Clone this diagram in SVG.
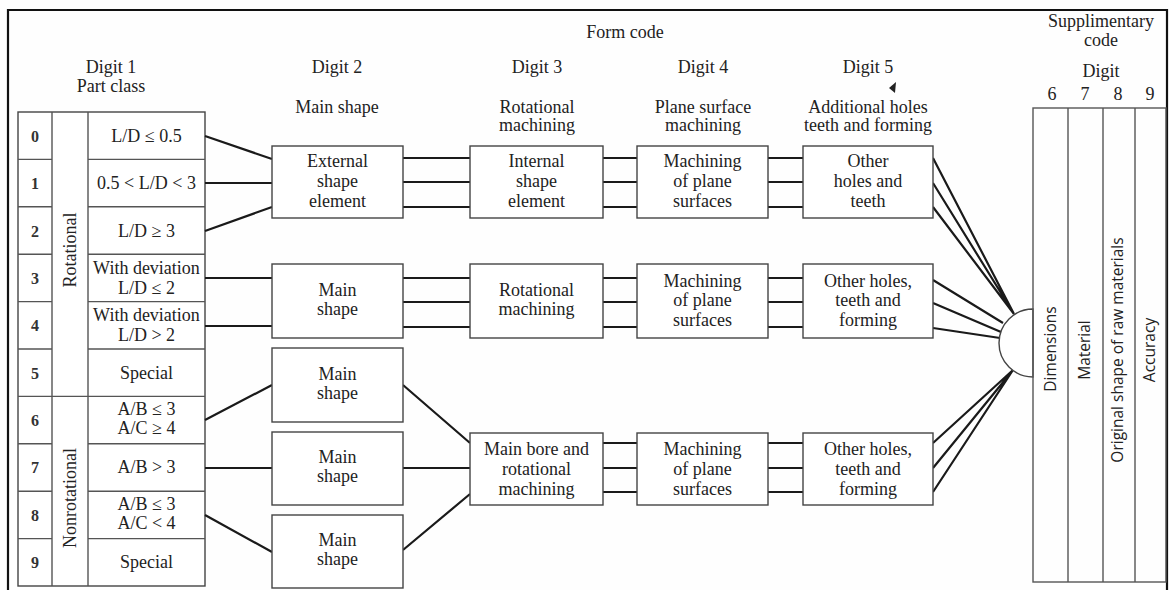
<svg xmlns="http://www.w3.org/2000/svg" width="1169" height="590" viewBox="0 0 1169 590">
<style>
.bg{fill:#fefefe}
.frame{fill:none;stroke:#111;stroke-width:2.2}
.box{fill:#fff;stroke:#444;stroke-width:1.4}
.ln{fill:none;stroke:#555;stroke-width:1.4}
.con{fill:none;stroke:#1a1a1a;stroke-width:2.2}
.t{font-family:"Liberation Serif","Times New Roman",serif;font-size:18px;fill:#222;text-anchor:middle}
.d{font-family:"Liberation Serif","Times New Roman",serif;font-size:16px;font-weight:bold;fill:#333;text-anchor:middle}
.v{font-family:"Liberation Serif","Times New Roman",serif;font-size:18px;fill:#222;text-anchor:middle}
.s{font-family:"Open Sans","Liberation Sans",sans-serif;font-size:15.5px;fill:#222;text-anchor:middle}
</style>
<rect class="bg" x="0" y="0" width="1169" height="590"/>
<path class="frame" d="M8,592 V10 H1167 V592"/>

<g id="headers">
<text class="t" x="625" y="38">Form code</text>
<text class="t" x="111" y="73">Digit 1</text>
<text class="t" x="111" y="92">Part class</text>
<text class="t" x="337" y="73">Digit 2</text>
<text class="t" x="337" y="113">Main shape</text>
<text class="t" x="537" y="73">Digit 3</text>
<text class="t" x="537" y="113">Rotational</text>
<text class="t" x="537" y="131">machining</text>
<text class="t" x="703" y="73">Digit 4</text>
<text class="t" x="703" y="113">Plane surface</text>
<text class="t" x="703" y="131">machining</text>
<text class="t" x="868" y="73">Digit 5</text>
<polygon points="896,82 889,88 895,93" fill="#222"/>
<text class="t" x="868" y="113">Additional holes</text>
<text class="t" x="868" y="131">teeth and forming</text>
<text class="t" x="1101" y="27">Supplimentary</text>
<text class="t" x="1101" y="46">code</text>
<text class="t" x="1101" y="77">Digit</text>
<text class="t" x="1052" y="100">6</text>
<text class="t" x="1085" y="100">7</text>
<text class="t" x="1118" y="100">8</text>
<text class="t" x="1150" y="100">9</text>
</g>

<g id="part-class-table">
<rect class="box" x="18" y="112" width="187" height="474"/>
<path class="ln" d="M52,112 V586 M88,112 V586 M18,396.4 H205
M18,159.4 H52 M88,159.4 H205
M18,206.8 H52 M88,206.8 H205
M18,254.2 H52 M88,254.2 H205
M18,301.6 H52 M88,301.6 H205
M18,349 H52 M88,349 H205
M18,443.8 H52 M88,443.8 H205
M18,491.2 H52 M88,491.2 H205
M18,538.6 H52 M88,538.6 H205"/>
<text class="d" x="35" y="142">0</text>
<text class="d" x="35" y="189">1</text>
<text class="d" x="35" y="237">2</text>
<text class="d" x="35" y="284">3</text>
<text class="d" x="35" y="331">4</text>
<text class="d" x="35" y="379">5</text>
<text class="d" x="35" y="426">6</text>
<text class="d" x="35" y="473">7</text>
<text class="d" x="35" y="521">8</text>
<text class="d" x="35" y="568">9</text>
<text class="v" transform="translate(76,250) rotate(-90)">Rotational</text>
<text class="v" transform="translate(76,498) rotate(-90)">Nonrotational</text>
<text class="t" x="146.5" y="142">L/D ≤ 0.5</text>
<text class="t" x="146.5" y="189">0.5 &lt; L/D &lt; 3</text>
<text class="t" x="146.5" y="237">L/D ≥ 3</text>
<text class="t" x="146.5" y="274">With deviation</text>
<text class="t" x="146.5" y="294">L/D ≤ 2</text>
<text class="t" x="146.5" y="321">With deviation</text>
<text class="t" x="146.5" y="341">L/D &gt; 2</text>
<text class="t" x="146.5" y="379">Special</text>
<text class="t" x="146.5" y="415">A/B ≤ 3</text>
<text class="t" x="146.5" y="434">A/C ≥ 4</text>
<text class="t" x="146.5" y="473">A/B &gt; 3</text>
<text class="t" x="146.5" y="510">A/B ≤ 3</text>
<text class="t" x="146.5" y="529">A/C &lt; 4</text>
<text class="t" x="146.5" y="568">Special</text>
</g>

<g id="connectors">
<path class="con" d="M205,136 L272,159 M205,183 L272,183 M205,231 L272,207
M205,278 L272,278 M205,326 L272,326
M205,420 L272,385 M205,468 L272,468 M205,515 L272,552"/>
<path class="con" d="M403,158 H470 M403,182 H470 M403,207 H470
M403,278 H470 M403,302 H470 M403,327 H470
M403,385 L470,443 M403,468 H470 M403,550 L470,494"/>
<path class="con" d="M603,158 H637 M603,182 H637 M603,207 H637
M603,278 H637 M603,302 H637 M603,327 H637
M603,443 H637 M603,468 H637 M603,492 H637"/>
<path class="con" d="M768,158 H803 M768,182 H803 M768,207 H803
M768,278 H803 M768,302 H803 M768,327 H803
M768,443 H803 M768,468 H803 M768,492 H803"/>
<path class="con" d="M933,158 L1014,314 M933,183 L1014,314 M933,207 L1014,314
M933,280 L1003,323 M933,303 L1001,332 M933,328 L1000,338
M933,443 L1013,370 M933,468 L1013,370 M933,492 L1013,370"/>
</g>

<g id="d2-external">
<rect class="box" x="272" y="146" width="131" height="72"/>
<text class="t" x="337.5" y="167">External</text>
<text class="t" x="337.5" y="187">shape</text>
<text class="t" x="337.5" y="207">element</text>
</g>
<g id="d2-main1">
<rect class="box" x="272" y="264" width="131" height="74"/>
<text class="t" x="337.5" y="296">Main</text>
<text class="t" x="337.5" y="315">shape</text>
</g>
<g id="d2-main2">
<rect class="box" x="272" y="348" width="131" height="74"/>
<text class="t" x="337.5" y="380">Main</text>
<text class="t" x="337.5" y="399">shape</text>
</g>
<g id="d2-main3">
<rect class="box" x="272" y="432" width="131" height="73"/>
<text class="t" x="337.5" y="463">Main</text>
<text class="t" x="337.5" y="482">shape</text>
</g>
<g id="d2-main4">
<rect class="box" x="272" y="515" width="131" height="73"/>
<text class="t" x="337.5" y="546">Main</text>
<text class="t" x="337.5" y="565">shape</text>
</g>

<g id="d3-internal">
<rect class="box" x="470" y="146" width="133" height="72"/>
<text class="t" x="536.5" y="167">Internal</text>
<text class="t" x="536.5" y="187">shape</text>
<text class="t" x="536.5" y="207">element</text>
</g>
<g id="d3-rotational">
<rect class="box" x="470" y="264" width="133" height="74"/>
<text class="t" x="536.5" y="296">Rotational</text>
<text class="t" x="536.5" y="315">machining</text>
</g>
<g id="d3-mainbore">
<rect class="box" x="470" y="433" width="133" height="72"/>
<text class="t" x="536.5" y="455">Main bore and</text>
<text class="t" x="536.5" y="475">rotational</text>
<text class="t" x="536.5" y="495">machining</text>
</g>

<g id="d4-plane1">
<rect class="box" x="637" y="146" width="131" height="72"/>
<text class="t" x="702.5" y="167">Machining</text>
<text class="t" x="702.5" y="187">of plane</text>
<text class="t" x="702.5" y="207">surfaces</text>
</g>
<g id="d4-plane2">
<rect class="box" x="637" y="264" width="131" height="74"/>
<text class="t" x="702.5" y="287">Machining</text>
<text class="t" x="702.5" y="306">of plane</text>
<text class="t" x="702.5" y="326">surfaces</text>
</g>
<g id="d4-plane3">
<rect class="box" x="637" y="433" width="131" height="72"/>
<text class="t" x="702.5" y="455">Machining</text>
<text class="t" x="702.5" y="475">of plane</text>
<text class="t" x="702.5" y="495">surfaces</text>
</g>

<g id="d5-holes1">
<rect class="box" x="803" y="146" width="130" height="72"/>
<text class="t" x="868" y="167">Other</text>
<text class="t" x="868" y="187">holes and</text>
<text class="t" x="868" y="207">teeth</text>
</g>
<g id="d5-holes2">
<rect class="box" x="803" y="264" width="130" height="74"/>
<text class="t" x="868" y="287">Other holes,</text>
<text class="t" x="868" y="306">teeth and</text>
<text class="t" x="868" y="326">forming</text>
</g>
<g id="d5-holes3">
<rect class="box" x="803" y="433" width="130" height="72"/>
<text class="t" x="868" y="455">Other holes,</text>
<text class="t" x="868" y="475">teeth and</text>
<text class="t" x="868" y="495">forming</text>
</g>

<g id="supplementary">
<path class="box" d="M1033,309 A34,34 0 0 0 1033,377 Z"/>
<rect class="ln" x="1033" y="108" width="133" height="474"/>
<path class="ln" d="M1068,108 V582 M1103,108 V582 M1135,108 V582"/>
<text class="s" transform="translate(1056,349) rotate(-90)">Dimensions</text>
<text class="s" transform="translate(1090,350) rotate(-90)">Material</text>
<text class="s" transform="translate(1123,350) rotate(-90)">Original shape of raw materials</text>
<text class="s" transform="translate(1155,350) rotate(-90)">Accuracy</text>
</g>
</svg>
